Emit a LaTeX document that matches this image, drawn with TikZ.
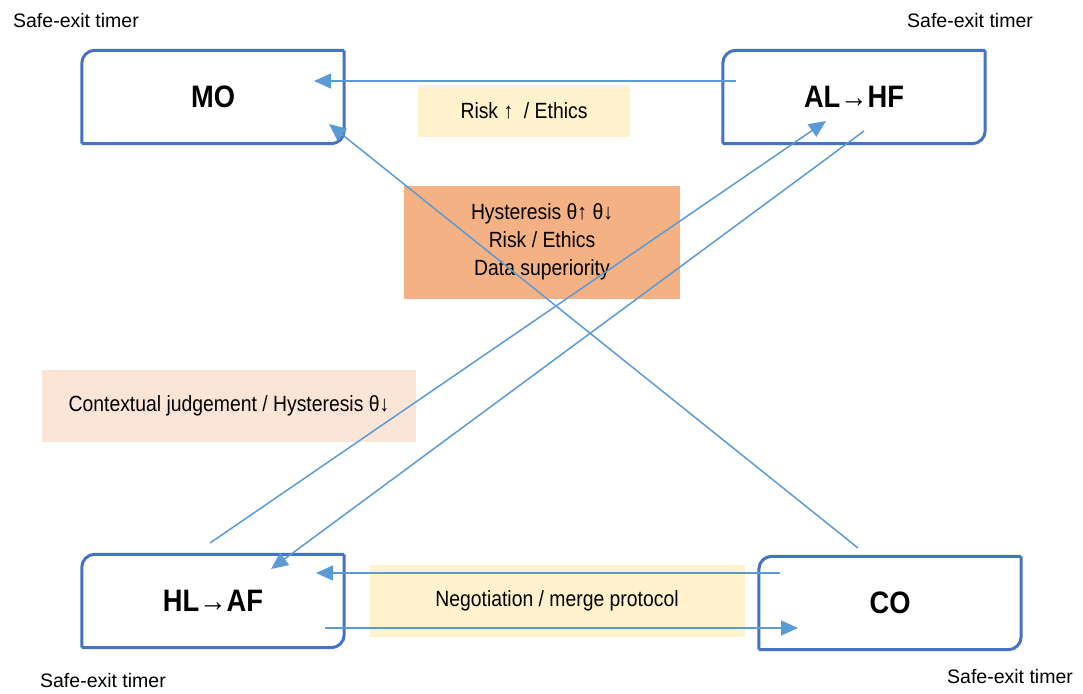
\documentclass[tikz,border=0pt]{standalone}
\usepackage{fontspec}
\setmainfont{Liberation Sans}
\newfontfamily\narrowsans[FakeStretch=0.88]{Liberation Sans}
\usetikzlibrary{arrows.meta}
\definecolor{boxblue}{RGB}{68,114,196}
\definecolor{linkblue}{RGB}{91,155,213}
\definecolor{paleyellow}{RGB}{255,242,204}
\definecolor{orangefill}{RGB}{244,177,131}
\definecolor{pinkfill}{RGB}{251,229,214}
\tikzset{
  statebox/.style={minimum width=262pt,minimum height=93pt,inner sep=0pt,font=\narrowsans\fontsize{31}{33}\selectfont\bfseries},
  labelbox/.style={inner sep=0pt,font=\narrowsans\fontsize{22}{28}\selectfont,align=center},
  timer/.style={inner sep=0pt,font=\fontsize{19.5}{22}\selectfont},
  link/.style={draw=linkblue,line width=1.5pt,-{Triangle[length=17pt,width=15pt]}},
  boxline/.style={draw=boxblue,line width=3pt,line cap=square,rounded corners=13pt},
}
% border with rounded top-left and bottom-right corners
\newcommand{\halfround}[1]{%
  \draw[boxline] (#1.south west) -- (#1.north west) -- (#1.north east);
  \draw[boxline] (#1.north east) -- (#1.south east) -- (#1.south west);}
\begin{document}
\begin{tikzpicture}[x=1pt,y=-1pt]
\useasboundingbox[fill=white] (0,0) rectangle (1083,693);
% label boxes
\node[labelbox,fill=paleyellow,minimum width=212pt,minimum height=52pt] (risk) at (524,111) {Risk ↑ \ / Ethics};
\node[labelbox,fill=orangefill,minimum width=276pt,minimum height=113pt] (hyst) at (542,242) {Hysteresis θ↑ θ↓\\Risk / Ethics\\Data superiority};
\node[labelbox,fill=pinkfill,minimum width=374pt,minimum height=72pt] (ctx) at (229,406) {Contextual judgement / Hysteresis θ↓};
\node[labelbox,fill=paleyellow,minimum width=375pt,minimum height=72pt] (neg) at (557,601) {Negotiation / merge protocol};
% state boxes
\node[statebox] (mo) at (213,97) {MO};
\node[statebox] (al) at (854,97) {AL→HF};
\node[statebox] (hl) at (213,601) {HL→AF};
\node[statebox] (co) at (890,603) {CO};
\halfround{mo}\halfround{al}\halfround{hl}\halfround{co}
% timers
\node[timer] (t1) at (76,21) {Safe-exit timer};
\node[timer] (t2) at (970,21) {Safe-exit timer};
\node[timer] (t3) at (103,681) {Safe-exit timer};
\node[timer] (t4) at (1010,677) {Safe-exit timer};
% connector end points
\coordinate (alW) at (736,81);
\coordinate (moE) at (314,81);
\coordinate (coN) at (858,548);
\coordinate (moSE) at (329,124);
\coordinate (hlN) at (210,543);
\coordinate (alS) at (826,121);
\coordinate (alS2) at (864,131);
\coordinate (hlNE) at (271,569);
\coordinate (coW) at (780,573);
\coordinate (hlE) at (316,573);
\coordinate (hlE2) at (325,628);
\coordinate (coW2) at (798,628);
% connectors
\draw[link] (alW) -- (moE);
\draw[link] (coN) -- (moSE);
\draw[link] (hlN) -- (alS);
\draw[link] (alS2) -- (hlNE);
\draw[link] (coW) -- (hlE);
\draw[link] (hlE2) -- (coW2);
\end{tikzpicture}
\end{document}
